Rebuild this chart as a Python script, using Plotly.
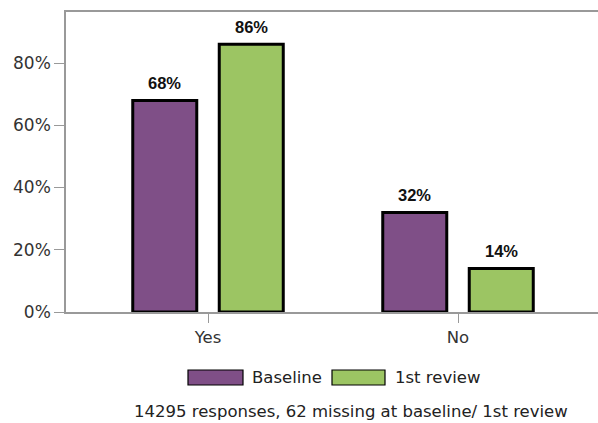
import plotly.graph_objects as go

categories = ["Yes", "No"]
series_names = ["Baseline", "1st review"]
baseline = [68, 32]
review1 = [86, 14]
tick_vals = [0, 20, 40, 60, 80]
tick_text = ["0%", "20%", "40%", "60%", "80%"]
footer = "14295 responses, 62 missing at baseline/ 1st review"

colors = ["#7f4f87", "#9cc563"]
FONT = "DejaVu Sans"
BOLD_FONT = "Liberation Sans"
FS = 16.5

W, H = 598, 423
L, R, T, B = 66, 0, 12, 111
X_RANGE = [-0.568, 1.56]
BARGAP, GROUPGAP = 0.308, 0.26

fig = go.Figure()
for name, vals, col in zip(series_names, [baseline, review1], colors):
    fig.add_trace(go.Bar(
        x=categories, y=vals, name=name,
        marker=dict(color=col, line=dict(color="black", width=3)),
        showlegend=False, hoverinfo="skip",
    ))

# value labels above bars (placed via data coords, shifted to each bar's slot)
px_per_unit = (W - L - R) / (X_RANGE[1] - X_RANGE[0])
slot_px = (1 - BARGAP) / len(series_names) * px_per_unit
for i, vals in enumerate([baseline, review1]):
    shift = (i - (len(series_names) - 1) / 2) * slot_px
    for cat, v in zip(categories, vals):
        fig.add_annotation(x=cat, y=v, text=f"<b>{v}%</b>", showarrow=False,
                           xanchor="center", yanchor="bottom", xshift=shift, yshift=6,
                           font=dict(family=BOLD_FONT, size=16.5, color="#111111"))

fig.update_layout(
    width=W, height=H,
    margin=dict(l=L, r=R, t=T, b=B, pad=0),
    paper_bgcolor="white", plot_bgcolor="white",
    barmode="group", bargap=BARGAP, bargroupgap=GROUPGAP,
    font=dict(family=FONT, size=FS, color="#333333"),
    showlegend=False,
)
fig.update_xaxes(
    range=X_RANGE, showline=True, linecolor="#999999", linewidth=1.5,
    mirror=True, ticks="outside", ticklen=9, tickcolor="#999999",
    showgrid=False, tickfont=dict(size=FS, color="#333333"), fixedrange=True,
)
fig.update_yaxes(
    range=[0, 96.4], tickvals=tick_vals, ticktext=tick_text,
    showline=True, linecolor="#999999", linewidth=1.5,
    ticks="outside", ticklen=10, tickcolor="#999999",
    showgrid=False, zeroline=False, tickfont=dict(size=17, color="#333333"),
    fixedrange=True,
)

# legend drawn as shapes + labels (wide swatches as in reference)
def px2paper(x, y):
    return (x - L) / (W - L - R), (H - B - y) / (H - T - B)

leg = [(188, 243, 250), (332, 385, 393)]
for (x0, x1, tx), col, name in zip(leg, colors, series_names):
    a0, b0 = px2paper(x0, 385)
    a1, b1 = px2paper(x1, 370)
    fig.add_shape(type="rect", xref="paper", yref="paper", x0=a0, x1=a1, y0=b0, y1=b1,
                  fillcolor=col, line=dict(color="black", width=1.2))
    ax, ay = px2paper(tx, 377.5)
    fig.add_annotation(xref="paper", yref="paper", x=ax, y=ay, text=name, showarrow=False,
                       xanchor="left", yanchor="middle", font=dict(size=FS, color="#222222"))

fx, fy = px2paper(351, 411)
fig.add_annotation(xref="paper", yref="paper", x=fx, y=fy, text=footer, showarrow=False,
                   xanchor="center", yanchor="middle", font=dict(size=FS, color="#222222"))

fig.write_html("out.html", config={"displayModeBar": False},
               post_script="document.body.style.margin='0';document.body.style.overflow='hidden';")
